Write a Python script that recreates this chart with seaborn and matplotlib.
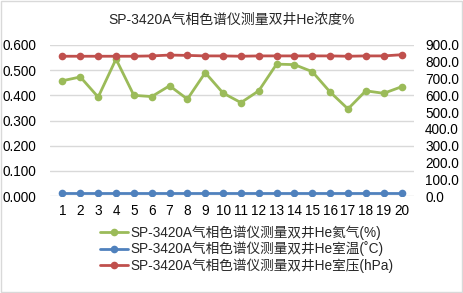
import pandas as pd
import numpy as np
import seaborn as sns
import matplotlib as mpl
import matplotlib.pyplot as plt

sns.set_style("white")
mpl.rcParams['font.family'] = ['Liberation Sans', 'Noto Sans CJK SC', 'DejaVu Sans']
mpl.rcParams['axes.unicode_minus'] = False

# 数据
idx = list(range(1, 21))
he_pct = [0.458, 0.473, 0.393, 0.544, 0.400, 0.395, 0.438, 0.385, 0.490, 0.409,
          0.371, 0.418, 0.524, 0.522, 0.494, 0.413, 0.346, 0.418, 0.408, 0.434]
temp = [17, 17, 17, 17, 17, 17, 17, 17, 17, 17,
        17, 17, 17, 17, 17, 17, 17, 17, 17, 17]
press = [833, 833, 833, 833, 833, 835, 840, 838, 835, 835,
         833, 835, 835, 835, 835, 835, 833, 835, 835, 842]
left_ticks = [0.0, 0.1, 0.2, 0.3, 0.4, 0.5, 0.6]
right_ticks = [0, 100, 200, 300, 400, 500, 600, 700, 800, 900]

title = "SP-3420A气相色谱仪测量双井He浓度%"
names = ["SP-3420A气相色谱仪测量双井He氦气(%)",
         "SP-3420A气相色谱仪测量双井He室温(˚C)",
         "SP-3420A气相色谱仪测量双井He室压(hPa)"]
colors = ["#9BBB59", "#4F81BD", "#C0504D"]

df = pd.DataFrame({"x": idx, "he": he_pct, "t": temp, "p": press})

fig = plt.figure(figsize=(4.63, 2.93), dpi=100)
ax = fig.add_axes([50 / 463, 1 - 196 / 293, 364 / 463, 151 / 293])
ax2 = ax.twinx()

kw = dict(marker="o", markersize=5.5, linewidth=2, markeredgewidth=0)
sns.lineplot(data=df, x="x", y="he", ax=ax, color=colors[0], label=names[0], legend=False, **kw)
sns.lineplot(data=df, x="x", y="t", ax=ax2, color=colors[1], label=names[1], legend=False, **kw)
sns.lineplot(data=df, x="x", y="p", ax=ax2, color=colors[2], label=names[2], legend=False, **kw)

ax.set_xlim(0.3, 20.7)
ax.set_ylim(0, 0.6)
ax2.set_ylim(0, 900)
ax.set_yticks(left_ticks)
ax.set_yticklabels(["%.3f" % v for v in left_ticks])
ax2.set_yticks(right_ticks)
ax2.set_yticklabels(["%.1f" % v for v in right_ticks])
ax.set_xticks(idx)
ax.set_xticklabels([str(i) for i in idx])
ax.yaxis.grid(True, color="#D9D9D9", linewidth=1)
ax.set_axisbelow(True)
for a in (ax, ax2):
    for s in a.spines.values():
        s.set_visible(False)
    a.set_xlabel("")
    a.set_ylabel("")
    a.tick_params(length=0, labelsize=9.8, colors="#000000")
ax.tick_params(axis="y", pad=10)
ax.tick_params(axis="x", pad=6)
ax2.tick_params(axis="y", pad=8)

fig.text(0.5, 1 - 20 / 293, title, ha="center", va="center", fontsize=10)

h1, l1 = ax.get_legend_handles_labels()
h2, l2 = ax2.get_legend_handles_labels()
fig.legend(h1 + h2, l1 + l2, loc="center", bbox_to_anchor=(0.533, 1 - 249 / 293),
           frameon=False, fontsize=9.8, handlelength=2.1, handletextpad=0.15,
           labelspacing=0.12, borderpad=0)

fig.patches.append(mpl.patches.Rectangle((0.003, 0.004), 0.994, 0.992, transform=fig.transFigure,
                                         fill=False, edgecolor="#D9D9D9", linewidth=1))
fig.savefig("out.png", dpi=100)
